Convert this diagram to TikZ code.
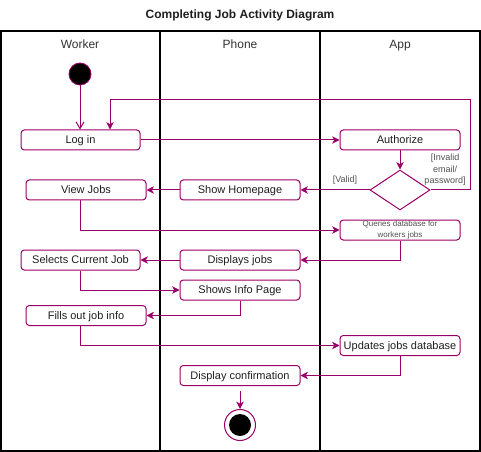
\documentclass[tikz,border=0pt]{standalone}
\usepackage{fontspec}
\setmainfont{Liberation Sans}
\usetikzlibrary{arrows.meta,shapes.geometric,calc}
\definecolor{pur}{RGB}{153,0,102}
\definecolor{txt}{RGB}{30,30,30}
\definecolor{hdr}{RGB}{51,51,51}
\definecolor{lbl}{RGB}{80,80,80}
\tikzset{
  basebox/.style={draw=pur, line width=0.75pt, rounded corners=2.5pt, minimum width=90pt, minimum height=15pt, inner sep=0pt, text=txt, font=\fontsize{8.25}{10}\selectfont},
  actbox/.style={basebox, text height=5.9pt, text depth=0pt},
  conn/.style={draw=pur, line width=0.75pt, -{Stealth[length=5.5pt,width=5.5pt,inset=1.5pt]}},
  openconn/.style={draw=pur, line width=0.75pt, -{Straight Barb[length=5pt,width=6pt]}},
  lane/.style={draw=black, line width=0.9pt},
  hdrtext/.style={text=hdr, font=\fontsize{9}{11}\selectfont, anchor=base, inner sep=0pt},
  guard/.style={text=lbl, font=\fontsize{6.75}{8.6}\selectfont, align=center, inner sep=0pt},
}
\begin{document}
\begin{tikzpicture}[x=0.75pt,y=-0.75pt]
\useasboundingbox (0,0) rectangle (481,452);
% title
\node[font=\bfseries\fontsize{9}{11}\selectfont, text=txt, anchor=base, inner sep=0pt] (title) at (240,18.3) {Completing Job Activity Diagram};
% frame and lanes
\draw[lane, line width=1.1pt] (1,31) rectangle (480,451);
\draw[lane] (160,31) -- (160,451);
\draw[lane] (320,31) -- (320,451);
\node[hdrtext] (hw) at (80,48.3) {Worker};
\node[hdrtext] (hp) at (240,48.3) {Phone};
\node[hdrtext] (ha) at (400,48.3) {App};
% nodes
\node[circle, fill=black, draw=pur, line width=0.6pt, minimum size=16.5pt, inner sep=0pt] (start) at (80,74) {};
\node[actbox, minimum width=89.25pt] (login) at (80.5,140) {Log in};
\node[actbox] (auth) at (400,140) {Authorize};
\node[diamond, draw=pur, line width=0.75pt, minimum width=45pt, minimum height=30pt, inner sep=0pt] (dec) at (400,190) {};
\node[actbox] (home) at (240,190) {Show Homepage};
\node[actbox] (view) at (86,190) {View Jobs};
\node[basebox, font=\fontsize{6}{8.25}\selectfont, text=lbl, align=center] (query) at (400,230) {Queries database for\\workers jobs};
\node[actbox] (disp) at (240,260) {Displays jobs};
\node[actbox, minimum width=89.25pt] (sel) at (80.5,260) {Selects Current Job};
\node[actbox] (info) at (240,290) {Shows Info Page};
\node[actbox] (fill) at (86,315.5) {Fills out job info};
\node[actbox] (upd) at (400,345.5) {Updates jobs database};
\node[actbox] (conf) at (240,375.5) {Display confirmation};
\node[circle, draw=pur, fill=white, line width=0.75pt, minimum size=23.25pt, inner sep=0pt] (final) at (240,425) {};
\node[circle, fill=black, minimum size=16.5pt, inner sep=0pt] (finalin) at (240,425) {};
% guards
\node[guard] (valid) at (345,180) {[Valid]};
\node[guard] (invalid) at (445,170) {[Invalid\\email/\\password]};
% loop coordinates
\coordinate (loopR) at (470,100);
\coordinate (loopL) at (110,100);
% connectors
\draw[openconn] (start) -- (start |- login.north);
\draw[conn] (dec.east) -| (loopR) -- (loopL) -- (loopL |- login.north);
\draw[conn] (login) -- (auth);
\draw[conn] (auth) -- (dec);
\draw[conn] (dec.west) -- (home.east);
\draw[conn] (home.west) -- (view.east);
\draw[conn] (view.south -| start) |- (query.west);
\draw[conn] (query.south) |- (disp.east);
\draw[conn] (disp.west) -- (sel.east);
\draw[conn] (sel.south) |- (info.west);
\draw[conn] (info.south) |- (fill.east);
\draw[conn] (fill.south -| start) |- (upd.west);
\draw[conn] (upd.south) |- (conf.east);
\draw[conn, shorten <=3.5pt] (conf.south) -- (final.north);
\end{tikzpicture}
\end{document}
